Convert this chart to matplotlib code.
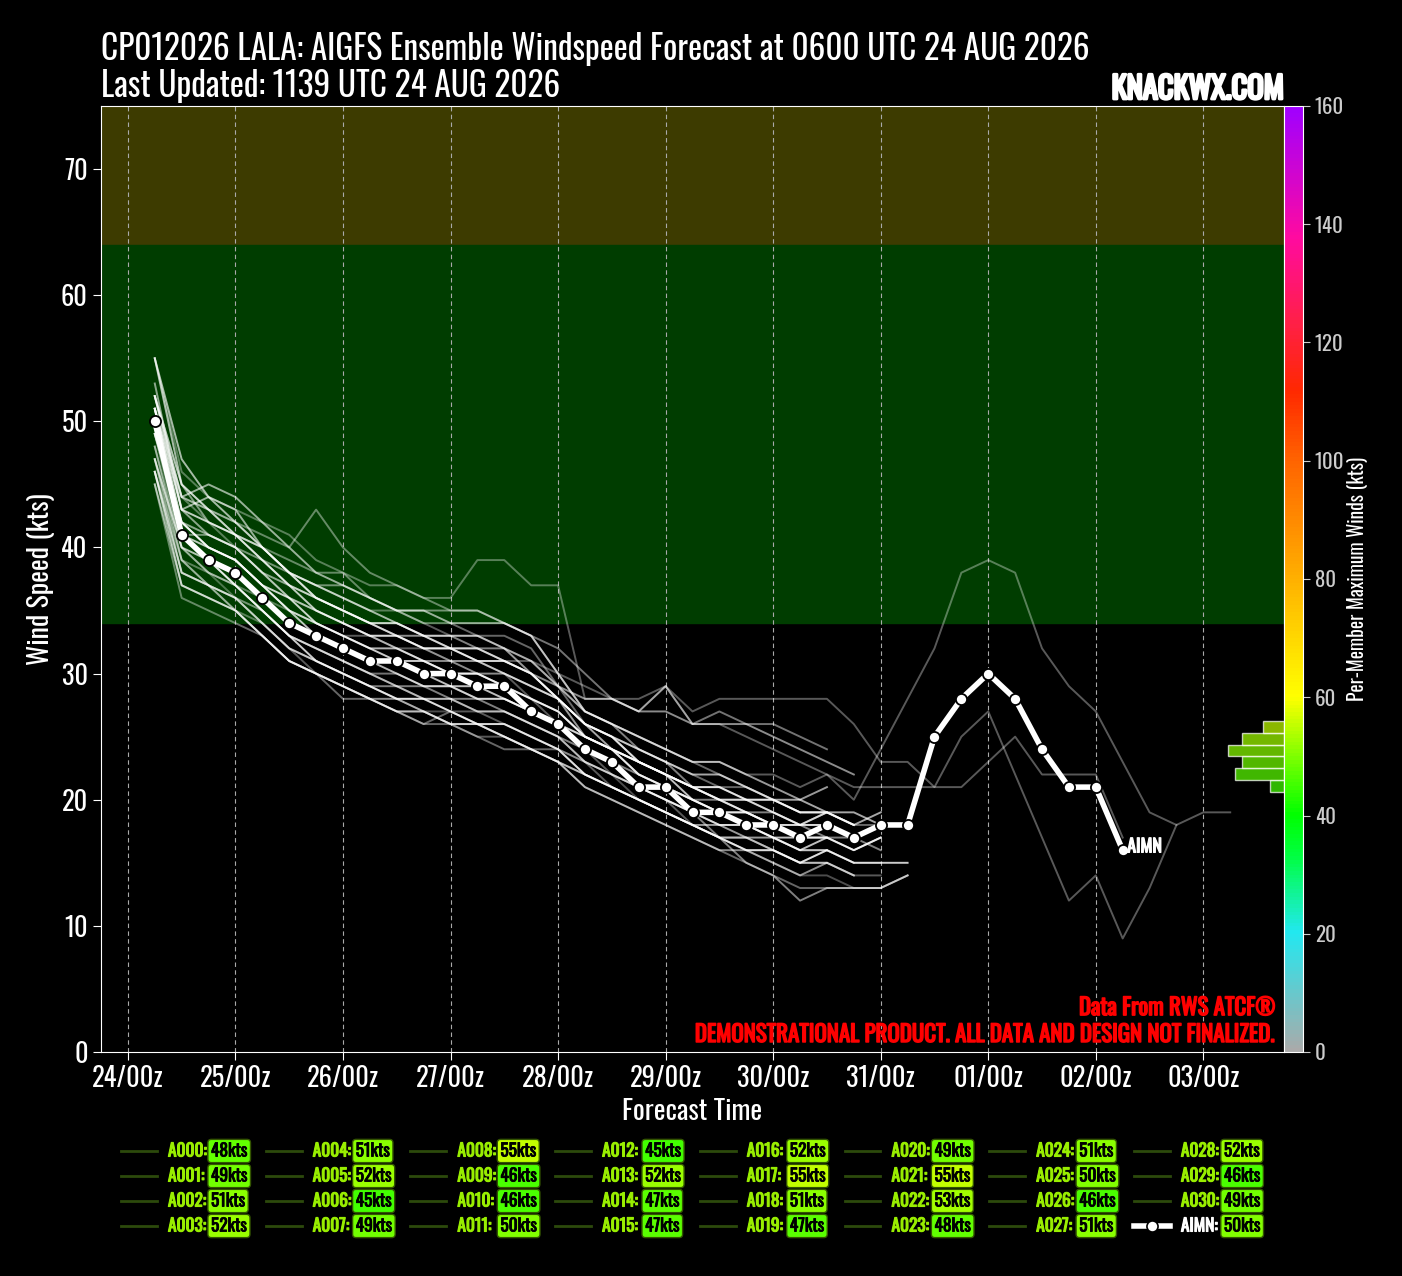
import numpy as np
import pandas as pd
import matplotlib
matplotlib.use("Agg")
import matplotlib.pyplot as plt
import matplotlib.font_manager as fm
import matplotlib.patheffects as pe
from matplotlib.colors import LinearSegmentedColormap, Normalize
from matplotlib.lines import Line2D
import matplotlib.colorbar as mcolorbar

# ---- font: pick the narrowest family that is installed ----
_names = {f.name for f in fm.fontManager.ttflist}
FONT = "DejaVu Sans"
for cand in ["Oswald", "Liberation Sans Narrow", "Roboto Condensed", "Open Sans Condensed"]:
    if cand in _names:
        FONT = cand
        break
plt.rcParams["font.family"] = [FONT, "DejaVu Sans"]


def bold(color, w=1.1):
    # fake a heavier weight by stroking the glyphs in their own colour
    return [pe.withStroke(linewidth=w, foreground=color)]


# ======================================================
#  data : 6-hourly windspeed (kts) starting 0600 UTC 24 AUG 2026
# ======================================================
T0 = pd.Timestamp("2026-08-24 06:00")

MEMBERS = {
    "A000": [48, 40, 38, 37, 35, 33, 32, 31, 30, 29, 28, 28, 27, 27, 26, 25, 23, 22, 21, 20, 19, 18, 18, 17, 16, 16, 15],
    "A001": [49, 42, 40, 39, 37, 35, 34, 33, 32, 32, 31, 30, 30, 29, 28, 27, 25, 24, 22, 21, 20, 19, 19, 18, 17, 17],
    "A002": [51, 44, 42, 40, 38, 36, 35, 34, 33, 33, 32, 31, 31, 30, 28, 26, 24, 22, 21, 20, 18, 17, 17, 16, 15, 15, 14, 14],
    "A003": [52, 43, 44, 43, 40, 38, 36, 35, 34, 34, 33, 33, 33, 32, 30, 28, 25, 24, 23, 22, 21, 20, 19, 18, 17, 18, 17],
    "A004": [51, 41, 39, 37, 35, 33, 31, 30, 29, 28, 28, 27, 26, 26, 25, 24, 22, 21, 20, 19, 18, 17, 16, 16, 15, 16, 15, 15, 15],
    "A005": [52, 45, 43, 41, 40, 39, 38, 38, 36, 35, 34, 34, 33, 33, 32, 29, 26, 25, 24, 23, 22, 21, 21, 20, 19, 19, 18, 18],
    "A006": [45, 37, 36, 35, 33, 31, 30, 29, 28, 28, 27, 26, 26, 25, 24, 23, 21, 20, 19, 18, 17, 16, 16, 15, 14, 15, 14],
    "A007": [49, 40, 38, 36, 34, 32, 31, 30, 29, 28, 27, 27, 26, 26, 25, 24, 23, 22, 20, 19, 18, 17, 16, 15, 14, 14, 13, 13, 14],
    "A008": [55, 47, 44, 42, 40, 38, 36, 35, 34, 33, 32, 32, 31, 30, 29, 28, 26, 24, 23, 22, 21, 20, 20, 19, 18, 19, 18, 19],
    "A009": [46, 39, 38, 37, 36, 35, 34, 33, 33, 32, 32, 31, 31, 31, 31, 30, 29, 28, 27, 29, 26, 26, 25, 24, 23, 22, 21, 21,
             21, 21, 21, 23, 25, 22, 22, 22, 17],
    "A010": [46, 38, 37, 36, 34, 32, 31, 30, 29, 29, 28, 28, 27, 27, 26, 25, 24, 23, 22, 21, 20, 20, 19, 19, 18, 18, 17],
    "A011": [50, 41, 40, 39, 37, 35, 33, 32, 31, 31, 30, 29, 29, 28, 27, 26, 24, 23, 21, 20, 19, 18, 18, 17, 16, 17, 16, 17],
    "A012": [45, 36, 35, 34, 33, 31, 30, 29, 28, 27, 26, 27, 26, 25, 24, 24, 22, 21, 20, 19, 18, 17, 17, 16, 15, 15],
    "A013": [52, 44, 45, 44, 42, 40, 38, 37, 36, 35, 35, 34, 34, 34, 33, 30, 27, 26, 25, 24, 23, 23, 22, 21, 20, 21],
    "A014": [47, 38, 37, 35, 34, 32, 30, 29, 28, 27, 27, 26, 25, 25, 24, 23, 22, 21, 20, 19, 18, 17, 16, 16, 15, 16, 15, 15],
    "A015": [47, 40, 39, 38, 36, 34, 33, 32, 31, 30, 29, 29, 28, 28, 27, 26, 25, 24, 22, 21, 20, 19, 19, 18, 18, 18],
    "A016": [52, 45, 42, 41, 39, 37, 36, 35, 34, 34, 33, 33, 32, 32, 31, 29, 27, 26, 24, 23, 21, 20, 19, 18, 18, 17, 17, 16],
    "A017": [55, 46, 44, 43, 42, 41, 39, 38, 37, 37, 36, 36, 39, 39, 37, 37, 28, 28, 28, 29, 27, 28, 28, 28, 28, 28, 26, 23,
             23, 21, 25, 27, 22, 17, 12, 14, 9, 13, 18],
    "A018": [51, 42, 40, 39, 37, 36, 34, 33, 32, 31, 31, 30, 30, 29, 28, 27, 25, 24, 23, 22, 21, 21, 20, 20, 19, 19, 18],
    "A019": [47, 39, 37, 35, 33, 31, 30, 28, 28, 27, 26, 26, 25, 24, 24, 23, 21, 20, 19, 18, 17, 16, 15, 14, 13, 13, 13, 13, 14],
    "A020": [49, 41, 41, 40, 39, 38, 37, 37, 36, 35, 35, 35, 35, 34, 33, 32, 30, 28, 27, 29, 26, 27, 26, 26, 25, 24],
    "A021": [55, 45, 43, 41, 40, 38, 37, 36, 35, 34, 33, 32, 32, 31, 30, 28, 26, 25, 24, 23, 22, 22, 21, 20, 20, 19, 19, 18, 18],
    "A022": [53, 43, 41, 40, 38, 36, 35, 34, 33, 32, 31, 31, 30, 30, 29, 28, 26, 25, 23, 22, 21, 20, 20, 19, 18, 19, 18],
    "A023": [48, 39, 37, 36, 34, 32, 31, 30, 29, 28, 28, 27, 27, 26, 25, 24, 23, 21, 20, 19, 18, 17, 17, 16, 15, 15, 14],
    "A024": [51, 44, 43, 42, 41, 40, 43, 40, 38, 37, 36, 35, 35, 34, 33, 30, 27, 26, 25, 24, 23, 22, 21, 20, 19],
    "A025": [50, 41, 39, 37, 35, 33, 32, 31, 30, 29, 29, 28, 28, 27, 26, 25, 23, 22, 21, 20, 19, 17, 15, 14, 12, 13, 13, 13, 14],
    "A026": [46, 37, 36, 35, 33, 31, 30, 29, 28, 27, 27, 26, 26, 25, 24, 23, 22, 21, 20, 19, 18, 18, 17, 17, 16, 16],
    "A027": [51, 43, 42, 41, 39, 37, 35, 34, 33, 33, 32, 32, 31, 31, 30, 28, 26, 25, 23, 22, 20, 19, 18, 17, 17, 17, 16, 17],
    "A028": [52, 44, 43, 42, 40, 38, 37, 36, 35, 35, 34, 33, 33, 32, 31, 29, 27, 26, 25, 24, 23, 23, 22, 22, 21, 22, 20, 24,
             28, 32, 38, 39, 38, 32, 29, 27, 23, 19, 18, 19, 19],
    "A029": [46, 38, 37, 36, 35, 33, 32, 31, 30, 30, 29, 29, 28, 28, 27, 26, 25, 24, 23, 22, 21, 21, 20, 20, 19, 19],
    "A030": [49, 42, 41, 40, 38, 37, 36, 35, 34, 33, 33, 32, 32, 31, 30, 29, 28, 28, 27, 27, 26, 26, 26, 25, 24, 23, 22],
}

AIMN = [50, 41, 39, 38, 36, 34, 33, 32, 31, 31, 30, 30, 29, 29, 27, 26, 24, 23, 21, 21, 19, 19, 18, 18, 17, 18, 17, 18,
        18, 25, 28, 30, 28, 24, 21, 21, 16]

# per-member line brightness (style only)
MEMBER_ALPHA = [0.45, 0.7, 0.35, 0.6, 0.8, 0.4, 0.55, 0.3, 0.65, 0.35, 0.5, 0.75, 0.4, 0.6, 0.35, 0.7,
                0.5, 0.35, 0.8, 0.4, 0.45, 0.65, 0.55, 0.35, 0.4, 0.5, 0.6, 0.75, 0.35, 0.45, 0.55]

# wind-speed colormap used for badges, histogram and colorbar
cmap = LinearSegmentedColormap.from_list("wind", [
    (0.0, "#aaaaaa"), (20 / 160, "#22e8f0"), (33 / 160, "#00ff40"), (40 / 160, "#00ff00"),
    (60 / 160, "#ffff00"), (80 / 160, "#ffb000"), (100 / 160, "#ff6400"), (112 / 160, "#ff2800"),
    (125 / 160, "#ff1e50"), (138 / 160, "#ff0aa0"), (1.0, "#a000ff")])
norm = Normalize(0, 160)


def times(n):
    return [T0 + pd.Timedelta(hours=6 * i) for i in range(n)]


# ======================================================
fig = plt.figure(figsize=(14.02, 12.76), dpi=100, facecolor="black")
ax = fig.add_axes([101 / 1402, 1 - 1052 / 1276, 1183 / 1402, 946 / 1276])
ax.set_facecolor("black")

all_times = times(max(len(v) for v in MEMBERS.values()))
x_min = all_times[0] - pd.Timedelta(hours=12)
x_max = all_times[-1] + pd.Timedelta(hours=12)

ax.axhspan(64, 75, color="#3d3b00", zorder=0)
ax.axhspan(34, 64, color="#003d00", zorder=0)
ax.text(0.5, 64.4, "CATEGORY 1", transform=ax.get_xaxis_transform(), ha="center", va="bottom",
        color="#8c8a00", fontsize=19, path_effects=bold("#8c8a00"))
ax.text(0.5, 34.4, "GALE", transform=ax.get_xaxis_transform(), ha="center", va="bottom",
        color="#009a00", fontsize=19, path_effects=bold("#009a00"))

for (name, vals), a in zip(MEMBERS.items(), MEMBER_ALPHA):
    ax.plot(times(len(vals)), vals, color="white", alpha=a, linewidth=1.4, zorder=3)

ax.plot(times(len(AIMN)), AIMN, color="white", linewidth=4, marker="o", markersize=8,
        markerfacecolor="white", markeredgecolor="black", markeredgewidth=1.3, zorder=5)
ax.text(times(len(AIMN))[-1] + pd.Timedelta(hours=1), AIMN[-1] + 0.3, "AIMN", color="white",
        fontsize=13, va="center", ha="left", zorder=6, path_effects=bold("white", 0.9))

ax.set_xlim(x_min, x_max)
ax.set_ylim(0, 75)
days = pd.date_range("2026-08-24", "2026-09-03", freq="D")
ax.set_xticks(days)
ax.set_xticklabels([d.strftime("%d/%Hz") for d in days])
ax.set_yticks(range(0, 71, 10))
for d in days:
    ax.axvline(d, color="#aaaaaa", linestyle=(0, (4, 3)), linewidth=0.8, zorder=1)

ax.tick_params(colors="white", labelsize=19, length=6)
for s in ax.spines.values():
    s.set_color("white")
ax.set_xlabel("Forecast Time", color="white", fontsize=20, labelpad=4)
ax.set_ylabel("Wind Speed (kts)", color="white", fontsize=20, labelpad=4)

ax.text(0.993, 0.039, "Data From RWS ATCF\u00ae", transform=ax.transAxes, ha="right", va="baseline",
        color="#ff0000", fontsize=16.5, zorder=7, path_effects=bold("#ff0000"))
ax.text(0.993, 0.0106, "DEMONSTRATIONAL PRODUCT. ALL DATA AND DESIGN NOT FINALIZED.", transform=ax.transAxes,
        ha="right", va="baseline", color="#ff0000", fontsize=16.5, zorder=7, path_effects=bold("#ff0000"))

# ---- histogram of per-member maximum winds, on the colorbar scale ----
max_winds = [max(v) for v in MEMBERS.values()] + [max(AIMN)]
counts, edges = np.histogram(max_winds, bins=np.arange(44, 57, 2))
hax = fig.add_axes(ax.get_position(), facecolor="none")
hax.set_xlim(169, 0)
hax.set_ylim(0, 160)
centers = (edges[:-1] + edges[1:]) / 2
hax.barh(centers, counts, height=2, color=[cmap(norm(c)) for c in centers], alpha=0.72,
         edgecolor=(1, 1, 1, 0.35), linewidth=1)
hax.set_axis_off()

# ---- colorbar ----
cax = fig.add_axes([1284 / 1402, 1 - 1052 / 1276, 19 / 1402, 946 / 1276])
cb = mcolorbar.ColorbarBase(cax, cmap=cmap, norm=norm)
cb.set_ticks(range(0, 161, 20))
cb.outline.set_edgecolor("white")
cax.tick_params(colors="#cccccc", labelsize=15, length=5)
cb.set_label("Per-Member Maximum Winds (kts)", color="white", fontsize=14, labelpad=2)

# ---- titles ----
fig.text(101 / 1402, 1 - 60 / 1276, "CP012026 LALA: AIGFS Ensemble Windspeed Forecast at 0600 UTC 24 AUG 2026",
         color="white", fontsize=24, va="baseline", ha="left")
fig.text(101 / 1402, 1 - 97 / 1276, "Last Updated: 1139 UTC 24 AUG 2026",
         color="white", fontsize=24, va="baseline", ha="left")
fig.text(1284 / 1402, 1 - 99 / 1276, "KNACKWX.COM", color="white", fontsize=22,
         va="baseline", ha="right", path_effects=bold("white", 2.0))

# ---- legend, 4 rows x 8 columns ----
labels = list(MEMBERS.keys()) + ["AIMN"]
for i, name in enumerate(labels):
    col, row = divmod(i, 4)
    x0 = (121 + 144.7 * col) / 1402
    y0 = 1 - (1151 + 25 * row) / 1276
    w = max_winds[i]
    if name == "AIMN":
        fig.add_artist(Line2D([x0, x0 + 36 / 1402], [y0, y0], transform=fig.transFigure,
                              color="white", linewidth=4))
        fig.add_artist(Line2D([x0 + 18 / 1402], [y0], transform=fig.transFigure, marker="o", markersize=8,
                              color="white", markeredgecolor="black", markeredgewidth=1.2))
        lc = "white"
    else:
        fig.add_artist(Line2D([x0, x0 + 36 / 1402], [y0, y0], transform=fig.transFigure,
                              color="#2c4a0c", linewidth=2))
        lc = "#99ee00"
    fig.text(x0 + 47 / 1402, y0, name + ":", color=lc, fontsize=12.5, va="center", ha="left",
             path_effects=bold(lc, 0.8))
    fig.text(x0 + 90 / 1402, y0, f"{w}kts", color="black", fontsize=12.5, va="center", ha="left",
             path_effects=bold("black", 0.6),
             bbox=dict(boxstyle="round,pad=0.18,rounding_size=0.2", facecolor=cmap(norm(w)),
                       edgecolor="#335500", linewidth=1))

fig.savefig("out.png", dpi=100, facecolor="black")
